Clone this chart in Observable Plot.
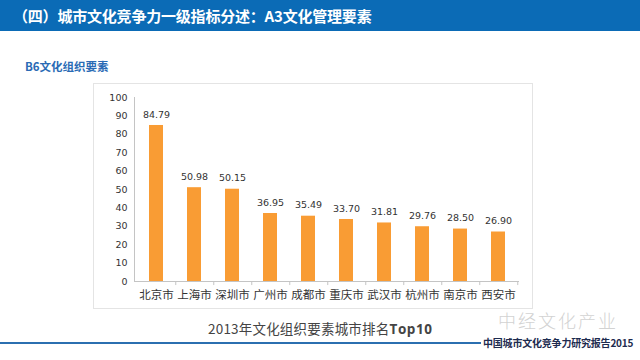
<!DOCTYPE html>
<html>
<head>
<meta charset="utf-8">
<script src="https://cdn.jsdelivr.net/npm/d3@7"></script>
<script src="https://cdn.jsdelivr.net/npm/@observablehq/plot@0.6"></script>
<style>
  html, body { margin: 0; padding: 0; background: #fff; }
  #page { position: relative; width: 640px; height: 360px; overflow: hidden; background: #fff; font-family: "Noto Sans CJK SC", sans-serif; }
  #header { position: absolute; left: 0; top: 0; width: 640px; height: 31px; background: #0b6bb6; }
  #title { position: absolute; left: 13px; top: 5px; color: #fff; font-size: 15px; font-weight: bold; white-space: nowrap; letter-spacing: -0.2px; }
  #subtitle { position: absolute; left: 25px; top: 58px; color: #2a6bb5; font-size: 11.5px; font-weight: bold; white-space: nowrap; }
  #box { position: absolute; left: 93px; top: 83px; width: 438px; height: 224px; border: 1px solid #e4e4e4; }
  #box svg { position: absolute; left: -1px; top: -1px; max-width: none; }
  #caption { position: absolute; left: 208px; top: 318px; color: #444; font-size: 13.5px; letter-spacing: 0.2px; white-space: nowrap; }
  #caption b { font-family: "Open Sans", sans-serif; font-weight: bold; letter-spacing: 0.6px; }
  #rule { position: absolute; left: 0; top: 342px; width: 481px; height: 2px; background: #2b6fb0; }
  #report { position: absolute; left: 483px; top: 337px; line-height: 12px; color: #1d2b4f; font-size: 10px; font-weight: bold; white-space: nowrap; letter-spacing: -0.2px; }
  #watermark { position: absolute; left: 498px; top: 311px; line-height: 19px; color: #d2d2d2; font-size: 18px; font-weight: 300; white-space: nowrap; letter-spacing: 2px; }
</style>
</head>
<body>
<div id="page">
  <div id="header"><div id="title">（四）城市文化竞争力一级指标分述：A3文化管理要素</div></div>
  <div id="subtitle">B6文化组织要素</div>
  <div id="box"></div>
  <div id="watermark">中经文化产业</div>
  <div id="caption">2013年文化组织要素城市排名<b>Top10</b></div>
  <div id="rule"></div>
  <div id="report">中国城市文化竞争力研究报告2015</div>
</div>
<script>
const cities = ["北京市", "上海市", "深圳市", "广州市", "成都市", "重庆市", "武汉市", "杭州市", "南京市", "西安市"];
const values = [84.79, 50.98, 50.15, 36.95, 35.49, 33.70, 31.81, 29.76, 28.50, 26.90];
const yTicks = [0, 10, 20, 30, 40, 50, 60, 70, 80, 90, 100];

const data = cities.map((c, i) => ({city: c, value: values[i]}));

const W = 440, H = 226, ML = 41, MR = 14, MT = 14, MB = 28;
const step = (W - ML - MR) / cities.length;

const chart = Plot.plot({
  width: W,
  height: H,
  marginLeft: ML,
  marginRight: MR,
  marginTop: MT,
  marginBottom: MB,
  style: { fontFamily: "DejaVu Sans, sans-serif", fontSize: "9.5px", color: "#333", background: "transparent", overflow: "visible" },
  x: { domain: cities, paddingInner: 0.64, paddingOuter: 0.32, label: null },
  y: { domain: [0, 100], label: null },
  marks: [
    Plot.barY(data, { x: "city", y: "value", fill: "#f99c34" }),
    Plot.text(data, { x: "city", y: "value", text: d => d.value.toFixed(2), dy: -11, fill: "#333", fontSize: 9.5 }),
    Plot.axisY({ ticks: yTicks, tickSize: 0, tickPadding: 7, label: null, fontSize: 9.5 }),
    Plot.axisX({ tickSize: 0, tickPadding: 9, label: null, fontSize: 11.5, fontFamily: "Noto Sans CJK SC, sans-serif", fill: "#333" }),
    Plot.frame({ anchor: "left", stroke: "#c4c4c4" }),
    Plot.ruleY([0], { stroke: "#c4c4c4" }),
    Plot.ruleX(cities, { x: d => d, dx: step / 2, y1: 0, y2: -2.2, stroke: "#c4c4c4" })
  ]
});
document.getElementById("box").appendChild(chart);
</script>
</body>
</html>
